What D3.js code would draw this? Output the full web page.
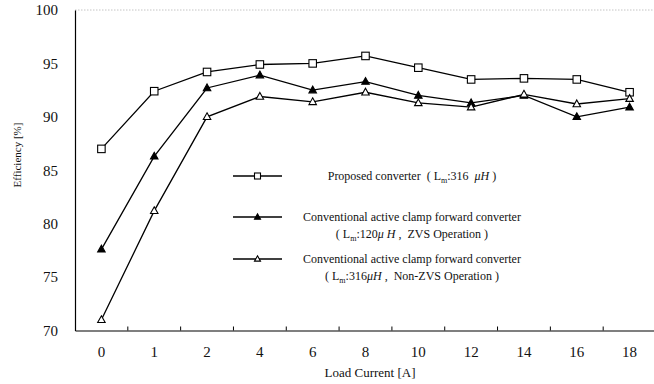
<!DOCTYPE html>
<html>
<head>
<meta charset="utf-8">
<script src="https://cdn.jsdelivr.net/npm/d3@7"></script>
<style>
  html, body { margin: 0; padding: 0; background: #fff; }
  svg { display: block; }
  svg text { font-family: "Liberation Serif", "Times New Roman", Times, "DejaVu Serif", serif; }
</style>
</head>
<body>
<svg id="chart" width="654" height="384"></svg>
<script>
// Load current categories [A] and efficiency [%] for each converter
const loadCurrent = ["0", "1", "2", "4", "6", "8", "10", "12", "14", "16", "18"];
const proposed      = [87.0, 92.4, 94.2, 94.9, 95.0, 95.7, 94.6, 93.5, 93.6, 93.5, 92.3];
const zvsClamp      = [77.6, 86.3, 92.7, 93.9, 92.5, 93.3, 92.0, 91.3, 92.0, 90.0, 90.9];
const nonZvsClamp   = [71.0, 81.2, 90.0, 91.9, 91.4, 92.3, 91.3, 90.9, 92.1, 91.2, 91.7];
const yTicks = [70, 75, 80, 85, 90, 95, 100];

// Legend text pieces: [text, kind] where kind is "" (plain), "sub" or "it"
const series = [
  { name: "proposed", values: proposed, marker: "square", fill: "#fff",
    lines: [[["Proposed converter  ", ""], ["( L", ""], ["m", "sub"], [":316  ", ""], ["μH", "it"], [" )", ""]]] },
  { name: "zvs", values: zvsClamp, marker: "triangle", fill: "#000",
    lines: [[["Conventional active clamp forward converter", ""]],
            [["( L", ""], ["m", "sub"], [":120", ""], ["μ H", "it"], [" ,  ZVS Operation )", ""]]] },
  { name: "nonzvs", values: nonZvsClamp, marker: "triangle", fill: "#fff",
    lines: [[["Conventional active clamp forward converter", ""]],
            [["( L", ""], ["m", "sub"], [":316", ""], ["μH", "it"], [" ,  Non-ZVS Operation )", ""]]] }
];

const svg = d3.select("#chart");
const plotLeft = 75, plotRight = 656, plotTop = 10, plotBottom = 330.5;

const x = d3.scaleBand().domain(loadCurrent).range([plotLeft, plotRight]).padding(0);
const y = d3.scaleLinear().domain([70, 100]).range([plotBottom, plotTop]);
const cx = c => x(c) + x.bandwidth() / 2;

// faint dotted frame line at the top
svg.append("line")
  .attr("x1", plotLeft).attr("x2", 654).attr("y1", y(100)).attr("y2", y(100))
  .attr("stroke", "#c4c4c4").attr("stroke-width", 1).attr("stroke-dasharray", "1.5,1.5");

// Y axis
const yAxis = svg.append("g").attr("transform", `translate(${plotLeft},0)`)
  .call(d3.axisLeft(y).tickValues(yTicks).tickSize(0).tickPadding(17).tickFormat(d3.format("d")));
yAxis.attr("font-family", null);
yAxis.select(".domain").attr("stroke", "#000").attr("stroke-width", 1.2);
yAxis.selectAll("text").attr("font-size", 15).attr("fill", "#111");

// X axis with labels centred in each band and ticks at band boundaries
const xAxis = svg.append("g").attr("transform", `translate(0,${plotBottom})`)
  .call(d3.axisBottom(x).tickSize(0).tickPadding(16));
xAxis.attr("font-family", null);
xAxis.select(".domain").attr("stroke", "#000").attr("stroke-width", 1.2);
xAxis.selectAll("text").attr("font-size", 15).attr("fill", "#111");
xAxis.selectAll(".boundary")
  .data(loadCurrent.slice(1))
  .join("line")
  .attr("class", "boundary")
  .attr("x1", d => x(d)).attr("x2", d => x(d))
  .attr("y1", 0).attr("y2", -4)
  .attr("stroke", "#000").attr("stroke-width", 1);

// Axis titles
svg.append("text")
  .attr("transform", `translate(21,155) rotate(-90)`)
  .attr("text-anchor", "middle").attr("font-size", 11).attr("fill", "#111")
  .text("Efficiency [%]");
svg.append("text")
  .attr("x", 370).attr("y", 377)
  .attr("text-anchor", "middle").attr("font-size", 13).attr("fill", "#111")
  .text("Load Current [A]");

// Marker drawing
function drawMarker(g, type, fill, size) {
  if (type === "square") {
    g.append("rect").attr("x", -size / 2).attr("y", -size / 2)
      .attr("width", size).attr("height", size)
      .attr("fill", fill).attr("stroke", "#000").attr("stroke-width", 1.1);
  } else {
    const h = size * 0.9;
    g.append("path")
      .attr("d", `M0,${-h * 0.6}L${size / 2},${h * 0.4}L${-size / 2},${h * 0.4}Z`)
      .attr("fill", fill).attr("stroke", "#000").attr("stroke-width", 1.1);
  }
}

const line = d3.line().x((d, i) => cx(loadCurrent[i])).y(d => y(d));

series.forEach(s => {
  svg.append("path").datum(s.values)
    .attr("d", line).attr("fill", "none")
    .attr("stroke", "#000").attr("stroke-width", 1.3);
  s.values.forEach((v, i) => {
    const g = svg.append("g").attr("transform", `translate(${cx(loadCurrent[i])},${y(v)})`);
    drawMarker(g, s.marker, s.fill, 7.5);
  });
});

// Legend
const legendY = [176, 217, 259];
const textCx = 412;
function richText(parts, xPos, yPos) {
  const t = svg.append("text").attr("x", xPos).attr("y", yPos)
    .attr("text-anchor", "middle").attr("font-size", 12).attr("fill", "#111")
    .attr("xml:space", "preserve").style("white-space", "pre");
  let shifted = false;
  parts.forEach(([txt, kind]) => {
    const ts = t.append("tspan").text(txt);
    if (kind === "sub") { ts.attr("font-size", 8).attr("dy", 3); shifted = true; }
    else if (shifted) { ts.attr("dy", -3); shifted = false; }
    if (kind === "it") ts.attr("font-style", "italic");
  });
  return t;
}
series.forEach((s, i) => {
  const ly = legendY[i];
  svg.append("line").attr("x1", 233).attr("x2", 282).attr("y1", ly).attr("y2", ly)
    .attr("stroke", "#000").attr("stroke-width", 1.3);
  const g = svg.append("g").attr("transform", `translate(257.5,${ly})`);
  drawMarker(g, s.marker, s.fill, 6);
  s.lines.forEach((parts, k) => richText(parts, textCx, ly + 4 + k * 17));
});
</script>
</body>
</html>
